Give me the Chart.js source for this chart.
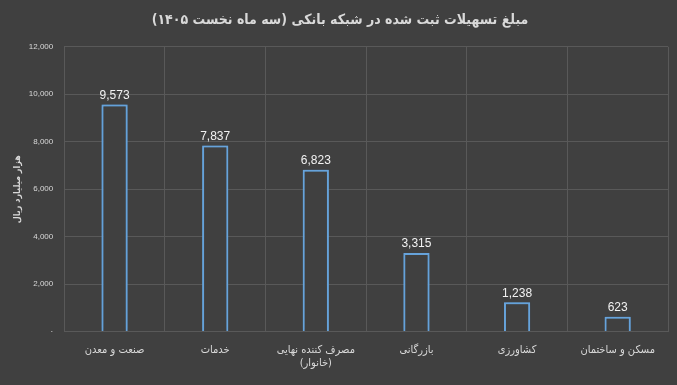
<!DOCTYPE html>
<html>
<head>
<meta charset="utf-8">
<script src="https://cdn.jsdelivr.net/npm/chart.js@4/dist/chart.umd.min.js"></script>
<style>
  html, body { margin: 0; padding: 0; background: #404040; }
  #wrap { width: 677px; height: 385px; }
</style>
</head>
<body>
<div id="wrap"><canvas id="chart"></canvas></div>
<script>
// données
var categories = [
    'صنعت و معدن',
    'خدمات',
    ['مصرف کننده نهایی', '(خانوار)'],
    'بازرگانی',
    'کشاورزی',
    'مسکن و ساختمان'
];
var values = [9573, 7837, 6823, 3315, 1238, 623];
var yTicks = [0, 2000, 4000, 6000, 8000, 10000, 12000];

var titleText = 'مبلغ تسهیلات ثبت شده در شبکه بانکی (سه ماه نخست ۱۴۰۵)';
var yTitle = 'هزار میلیارد ریال';

var fontFa = '"DejaVu Sans Condensed", "DejaVu Sans", sans-serif';
var fontNum = '"Liberation Sans", sans-serif';
var textColor = '#d9d9d9';

// lueur autour des barres + étiquettes de valeurs
var barGlow = {
    id: 'barGlow',
    beforeDatasetsDraw: function (chart) {
        chart.ctx.save();
        chart.ctx.shadowColor = 'rgba(91,155,213,0.8)';
        chart.ctx.shadowBlur = 4;
    },
    afterDatasetsDraw: function (chart) {
        var ctx = chart.ctx;
        ctx.restore();
        var meta = chart.getDatasetMeta(0);
        ctx.save();
        ctx.fillStyle = '#f2f2f2';
        ctx.font = '12px ' + fontNum;
        ctx.textAlign = 'center';
        ctx.textBaseline = 'bottom';
        meta.data.forEach(function (bar, i) {
            ctx.fillText(values[i].toLocaleString('en-US'), bar.x, bar.y - 3);
        });
        ctx.restore();
    }
};

new Chart(document.getElementById('chart'), {
    type: 'bar',
    data: {
        labels: categories,
        datasets: [{
            data: values,
            backgroundColor: 'rgba(64,64,64,1)',
            borderColor: '#6aa5dc',
            borderWidth: 2,
            categoryPercentage: 1,
            barPercentage: 0.26
        }]
    },
    options: {
        responsive: true,
        maintainAspectRatio: false,
        animation: false,
        layout: { padding: { left: 12, right: 9, top: 4, bottom: 3 } },
        plugins: {
            legend: { display: false },
            tooltip: { enabled: false },
            title: {
                display: true,
                text: titleText,
                color: textColor,
                font: { family: fontFa, size: 14, weight: 'bold' },
                padding: { top: 8, bottom: 18 }
            }
        },
        scales: {
            x: {
                grid: { color: '#595959', drawTicks: false },
                border: { display: false },
                ticks: {
                    color: textColor,
                    font: { family: fontFa, size: 11 },
                    padding: 12,
                    maxRotation: 0
                }
            },
            y: {
                min: 0,
                max: 12000,
                afterBuildTicks: function (axis) {
                    axis.ticks = yTicks.map(function (v) { return { value: v }; });
                },
                grid: { color: '#595959', drawTicks: false },
                border: { display: false },
                ticks: {
                    color: textColor,
                    font: { family: fontNum, size: 8 },
                    padding: 11,
                    callback: function (v) {
                        return v === 0 ? '·' : v.toLocaleString('en-US');
                    }
                },
                title: {
                    display: true,
                    text: yTitle,
                    color: textColor,
                    font: { family: fontFa, size: 9, weight: 'bold' },
                    padding: { top: 0, bottom: -5 }
                }
            }
        }
    },
    plugins: [barGlow]
});
</script>
</body>
</html>
